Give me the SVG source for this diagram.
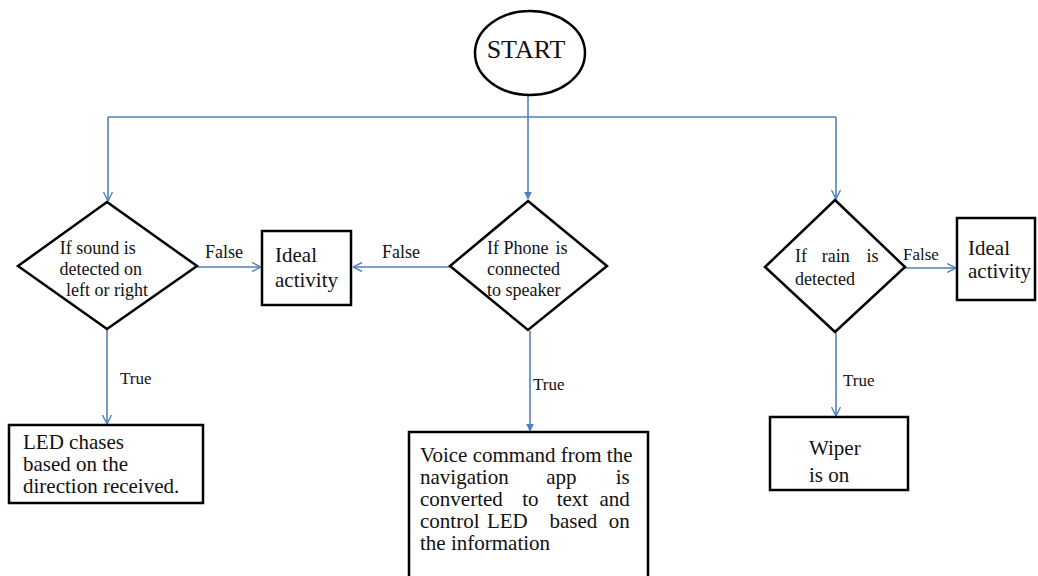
<svg xmlns="http://www.w3.org/2000/svg" width="1038" height="576" viewBox="0 0 1038 576">
  <defs>
    <style>
      .shape { fill: #ffffff; stroke: #000000; stroke-width: 2.5; }
      .conn { fill: none; stroke: #4F81BD; stroke-width: 1.6; }
      .t { fill: #111111; }
      .box { font-size: 21px; }
      .dia { font-size: 18px; }
      .lbl { font-size: 17px; }
    </style>
    <marker id="open" viewBox="0 0 10 10" refX="9.5" refY="5" markerWidth="10" markerHeight="10" markerUnits="userSpaceOnUse" orient="auto">
      <path d="M0.5,0.5 L9.5,5 L0.5,9.5" fill="none" stroke="#4F81BD" stroke-width="1.4"/>
    </marker>
    <marker id="solid" viewBox="0 0 10 10" refX="9" refY="5" markerWidth="8" markerHeight="8" markerUnits="userSpaceOnUse" orient="auto">
      <path d="M0,0 L10,5 L0,10 Z" fill="#4F81BD"/>
    </marker>
  </defs>

  <rect width="1038" height="576" fill="#ffffff"/>

  <g font-family="Liberation Serif, Times New Roman, serif">
  <!-- connectors -->
  <g id="connectors">
    <path class="conn" d="M528,95 V199" marker-end="url(#solid)"/>
    <path class="conn" d="M108,117 H836"/>
    <path class="conn" d="M108,117 V201" marker-end="url(#open)"/>
    <path class="conn" d="M836,117 V199" marker-end="url(#open)"/>
    <path class="conn" d="M197,267 H261" marker-end="url(#open)"/>
    <path class="conn" d="M450,267 H353" marker-end="url(#open)"/>
    <path class="conn" d="M905,268 H956" marker-end="url(#open)"/>
    <path class="conn" d="M107,330 V424" marker-end="url(#open)"/>
    <path class="conn" d="M530,331 V431" marker-end="url(#solid)"/>
    <path class="conn" d="M836,333 V416" marker-end="url(#open)"/>
    <text class="t dia" x="205" y="258">False</text>
    <text class="t dia" x="382" y="258">False</text>
    <text class="t lbl" x="903" y="260">False</text>
    <text class="t lbl" x="120" y="384">True</text>
    <text class="t lbl" x="533" y="390">True</text>
    <text class="t lbl" x="843" y="386">True</text>
  </g>

  <g id="start">
    <ellipse class="shape" cx="530" cy="53" rx="55" ry="42"/>
    <text class="t" x="526" y="58" font-size="26" text-anchor="middle">START</text>
  </g>

  <g id="sound-check">
    <polygon class="shape" points="107,202 197,266 107,329 18,266"/>
    <text class="t dia" text-anchor="middle">
      <tspan x="100" y="254">If sound is</tspan>
      <tspan x="103" y="275">detected on</tspan>
      <tspan x="107" y="296">left or right</tspan>
    </text>
  </g>

  <g id="phone-check">
    <polygon class="shape" points="528,201 607,266 528,330 450,266"/>
    <text class="t dia">
      <tspan x="487" y="254">If Phone</tspan>
      <tspan x="572" y="254" text-anchor="end">is</tspan>
      <tspan x="487" y="275">connected</tspan>
      <tspan x="487" y="296">to speaker</tspan>
    </text>
  </g>

  <g id="rain-check">
    <polygon class="shape" points="835,200 905,267 835,332 765,267"/>
    <text class="t dia">
      <tspan x="795" y="262">If</tspan>
      <tspan x="838" y="262" text-anchor="middle">rain</tspan>
      <tspan x="883" y="262" text-anchor="end">is</tspan>
      <tspan x="795" y="285">detected</tspan>
    </text>
  </g>

  <g id="idle-left">
    <rect class="shape" x="262" y="231" width="89" height="74"/>
    <text class="t box">
      <tspan x="275" y="262">Ideal</tspan>
      <tspan x="275" y="287">activity</tspan>
    </text>
  </g>

  <g id="idle-right">
    <rect class="shape" x="957" y="218" width="78" height="82"/>
    <text class="t box">
      <tspan x="968" y="255">Ideal</tspan>
      <tspan x="968" y="278">activity</tspan>
    </text>
  </g>

  <g id="led-chase">
    <rect class="shape" x="9" y="425" width="194" height="78"/>
    <text class="t box">
      <tspan x="23" y="449">LED chases</tspan>
      <tspan x="23" y="471">based on the</tspan>
      <tspan x="23" y="493">direction received.</tspan>
    </text>
  </g>

  <g id="voice-command">
    <rect class="shape" x="409" y="432" width="239" height="160"/>
    <text class="t box">
      <tspan x="420" y="462">Voice command from the</tspan>
      <tspan x="420" y="484">navigation</tspan>
      <tspan x="564" y="484" text-anchor="middle">app</tspan>
      <tspan x="635" y="484" text-anchor="end">is</tspan>
      <tspan x="420" y="506">converted</tspan>
      <tspan x="533" y="506" text-anchor="middle">to</tspan>
      <tspan x="575" y="506" text-anchor="middle">text</tspan>
      <tspan x="635" y="506" text-anchor="end">and</tspan>
      <tspan x="420" y="528">control</tspan>
      <tspan x="510" y="528" text-anchor="middle">LED</tspan>
      <tspan x="576" y="528" text-anchor="middle">based</tspan>
      <tspan x="635" y="528" text-anchor="end">on</tspan>
      <tspan x="420" y="550">the information</tspan>
    </text>
  </g>

  <g id="wiper">
    <rect class="shape" x="770" y="417" width="138" height="73"/>
    <text class="t box">
      <tspan x="809" y="455">Wiper</tspan>
      <tspan x="809" y="482">is on</tspan>
    </text>
  </g>
  </g>
</svg>
